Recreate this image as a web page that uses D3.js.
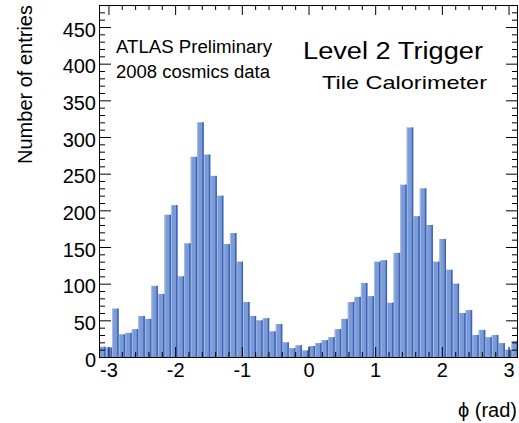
<!DOCTYPE html>
<html>
<head>
<meta charset="utf-8">
<script src="https://cdn.jsdelivr.net/npm/d3@7"></script>
<style>
  body { margin: 0; background: #fff; }
  svg { display: block; font-family: "Liberation Sans", Arial, sans-serif; }
</style>
</head>
<body>
<div id="chart"></div>
<script>
// phi histogram, 64 bins from -pi to pi
var counts = [14, 13, 66, 31, 33, 38, 56, 52, 97, 86, 194, 207, 110, 155, 273, 320,
              276, 247, 220, 154, 169, 130, 75, 56, 50, 53, 35, 45, 20, 12, 16, 9,
              15, 19, 23, 27, 38, 52, 75, 82, 101, 83, 130, 132, 74, 142, 235, 313,
              192, 230, 180, 130, 161, 119, 100, 60, 64, 30, 37, 27, 30, 19, 10, 22];
var xTickLabels = [-3, -2, -1, 0, 1, 2, 3];
var yTickLabels = [0, 50, 100, 150, 200, 250, 300, 350, 400, 450];

var width = 519,
    height = 423,
    margin = {left: 99, right: 1, top: 5, bottom: 66};

var plotW = width - margin.left - margin.right,
    plotH = height - margin.top - margin.bottom;

var xScale = d3.scaleLinear().domain([-Math.PI, Math.PI]).range([0, plotW]);
var yScale = d3.scaleLinear().domain([0, 480]).range([plotH, 0]);

var binW = 2 * Math.PI / counts.length;
var bins = counts.map((c, i) => ({x0: -Math.PI + i * binW, x1: -Math.PI + (i + 1) * binW, y: c}));

var svg = d3.select('#chart').append('svg')
    .attr('width', width)
    .attr('height', height);

var g = svg.append('g')
    .attr('transform', 'translate(' + margin.left + ',' + margin.top + ')');

// bars
var bars = g.append('g').attr('class', 'bars');
bars.selectAll('rect.fill').data(bins).enter().append('rect')
    .attr('class', 'fill')
    .attr('x', (d) => xScale(d.x0))
    .attr('y', (d) => yScale(d.y))
    .attr('width', (d) => xScale(d.x1) - xScale(d.x0))
    .attr('height', (d) => yScale(0) - yScale(d.y))
    .attr('fill', '#7b9bd5');
// light left edge
bars.selectAll('rect.hl').data(bins).enter().append('rect')
    .attr('class', 'hl')
    .attr('x', (d) => xScale(d.x0))
    .attr('y', (d) => yScale(d.y))
    .attr('width', 1)
    .attr('height', (d) => yScale(0) - yScale(d.y))
    .attr('fill', '#aabde6');
// dark right edge
bars.selectAll('rect.sh').data(bins).enter().append('rect')
    .attr('class', 'sh')
    .attr('x', (d) => xScale(d.x1) - 1.5)
    .attr('y', (d) => yScale(d.y))
    .attr('width', 1.5)
    .attr('height', (d) => yScale(0) - yScale(d.y))
    .attr('fill', '#3d63bd');

// minor tick values
var xMinor = d3.range(-31, 32).map((d) => d / 10).filter((d) => Math.round(d * 10) % 10 !== 0 && Math.round(d * 10) % 2 === 0);
var yMinor = d3.range(0, 481, 10).filter((d) => d % 50 !== 0);

function styleAxis(sel) {
    sel.select('.domain').remove();
    sel.selectAll('line').attr('stroke', '#000').attr('stroke-width', 1);
}

// bottom axis
g.append('g').attr('transform', 'translate(0,' + plotH + ')')
    .call(d3.axisBottom(xScale).tickValues(xMinor).tickSize(-5).tickFormat(''))
    .call(styleAxis);
g.append('g').attr('class', 'axis x').attr('transform', 'translate(0,' + plotH + ')')
    .call(d3.axisBottom(xScale).tickValues(xTickLabels).tickSize(-10).tickPadding(6).tickFormat((d) => String(d)))
    .call(styleAxis)
    .selectAll('text').attr('font-size', 20).attr('fill', '#000')
    .attr('font-family', '"Liberation Sans", Arial, sans-serif');

// top axis
g.append('g')
    .call(d3.axisTop(xScale).tickValues(xMinor).tickSize(-5).tickFormat(''))
    .call(styleAxis);
g.append('g')
    .call(d3.axisTop(xScale).tickValues(xTickLabels).tickSize(-10).tickFormat(''))
    .call(styleAxis);

// left axis
g.append('g')
    .call(d3.axisLeft(yScale).tickValues(yMinor).tickSize(-6).tickFormat(''))
    .call(styleAxis);
g.append('g').attr('class', 'axis y')
    .call(d3.axisLeft(yScale).tickValues(yTickLabels).tickSize(-12).tickPadding(3).tickFormat((d) => String(d)))
    .call(styleAxis)
    .selectAll('text').attr('font-size', 20).attr('fill', '#000').attr('dy', '0.45em')
    .attr('font-family', '"Liberation Sans", Arial, sans-serif');

// right axis
g.append('g').attr('transform', 'translate(' + plotW + ',0)')
    .call(d3.axisRight(yScale).tickValues(yMinor).tickSize(-6).tickFormat(''))
    .call(styleAxis);
g.append('g').attr('transform', 'translate(' + plotW + ',0)')
    .call(d3.axisRight(yScale).tickValues(yTickLabels).tickSize(-12).tickFormat(''))
    .call(styleAxis);

// frame
g.append('rect')
    .attr('x', 0.5).attr('y', 0.5)
    .attr('width', plotW - 1).attr('height', plotH)
    .attr('fill', 'none')
    .attr('stroke', '#000')
    .attr('stroke-width', 1);

// titles
svg.append('text')
    .attr('transform', 'translate(32,5) rotate(-90)')
    .attr('text-anchor', 'end')
    .attr('font-size', 20)
    .text('Number of entries');

svg.append('text')
    .attr('x', 517).attr('y', 417)
    .attr('text-anchor', 'end')
    .attr('font-size', 20)
    .text('\u03d5 (rad)');

// labels inside the frame
function label(txt, x, y, size, len) {
    svg.append('text')
        .attr('x', x).attr('y', y)
        .attr('font-size', size)
        .attr('textLength', len)
        .attr('lengthAdjust', 'spacingAndGlyphs')
        .text(txt);
}
label('ATLAS Preliminary', 116, 53, 18, 156);
label('2008 cosmics data', 116, 78, 18, 154);
label('Level 2 Trigger', 303, 59, 23, 180);
label('Tile Calorimeter', 322, 89, 19, 165);
</script>
</body>
</html>
